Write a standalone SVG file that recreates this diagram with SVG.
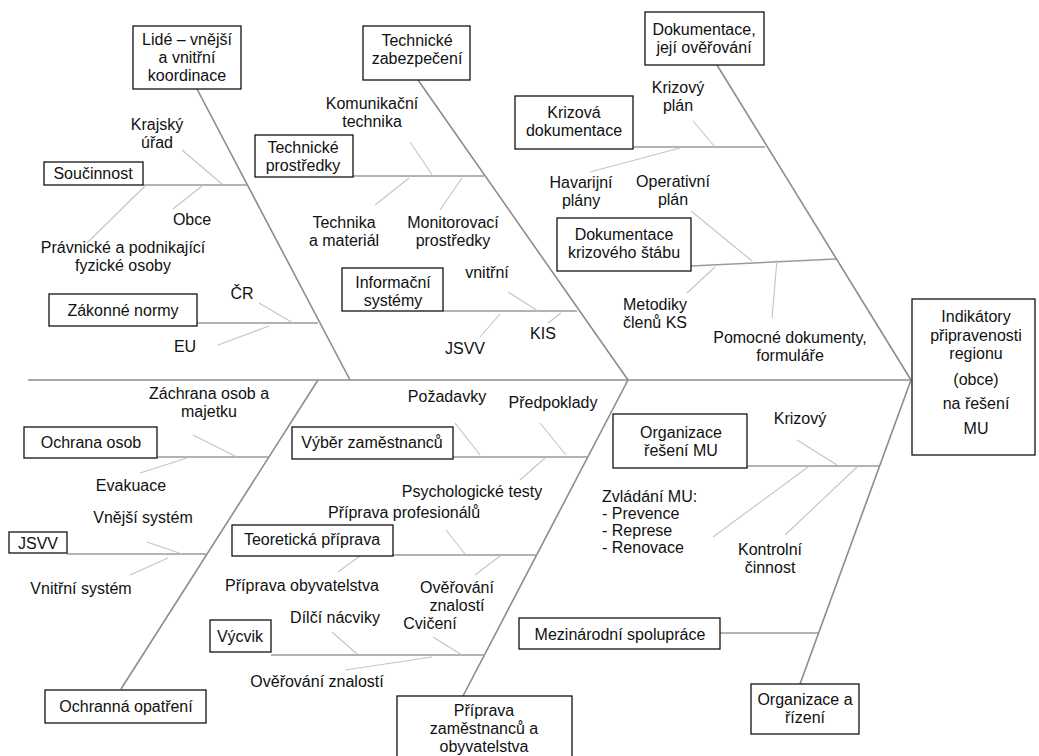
<svg xmlns="http://www.w3.org/2000/svg" width="1039" height="756" viewBox="0 0 1039 756">
<style>
text{font-family:"Liberation Sans",Arial,sans-serif;font-size:16px;fill:#111;text-anchor:middle}
.l{text-anchor:start}
.box{fill:#fff;stroke:#111;stroke-width:1.3}
.bone{stroke:#8c8c8c;stroke-width:1.6;fill:none}
.sub{stroke:#9a9a9a;stroke-width:1.5;fill:none}
.twig{stroke:#c4c4c4;stroke-width:1.1;fill:none}
</style>
<rect width="1039" height="756" fill="#fff"/>
<g id="connectors">
<line class="bone" x1="28" y1="380" x2="911" y2="380"/>
<line class="bone" x1="197" y1="89" x2="350" y2="380"/>
<line class="bone" x1="418" y1="80" x2="628" y2="380"/>
<line class="bone" x1="717" y1="65" x2="911" y2="380"/>
<line class="bone" x1="121" y1="689" x2="318" y2="380"/>
<line class="bone" x1="463" y1="696" x2="628" y2="380"/>
<line class="bone" x1="800" y1="684" x2="911" y2="380"/>
<line class="sub" x1="143" y1="185" x2="247" y2="185"/>
<line class="sub" x1="197" y1="323" x2="318" y2="323"/>
<line class="sub" x1="353" y1="176" x2="484" y2="176"/>
<line class="sub" x1="443" y1="311" x2="577" y2="311"/>
<line class="sub" x1="633" y1="147" x2="765" y2="147"/>
<line class="sub" x1="691" y1="266" x2="836" y2="259"/>
<line class="sub" x1="157" y1="457" x2="269" y2="457"/>
<line class="sub" x1="67" y1="554" x2="206" y2="554"/>
<line class="sub" x1="453" y1="457" x2="588" y2="457"/>
<line class="sub" x1="393" y1="555" x2="537" y2="555"/>
<line class="sub" x1="271" y1="655" x2="485" y2="655"/>
<line class="sub" x1="747" y1="466" x2="879" y2="466"/>
<line class="sub" x1="720" y1="633" x2="818" y2="633"/>
<line class="twig" x1="182" y1="150" x2="222" y2="184"/>
<line class="twig" x1="202" y1="186" x2="173" y2="209"/>
<line class="twig" x1="145" y1="186" x2="87" y2="243"/>
<line class="twig" x1="259" y1="303" x2="293" y2="323"/>
<line class="twig" x1="269" y1="326" x2="218" y2="345"/>
<line class="twig" x1="410" y1="142" x2="433" y2="176"/>
<line class="twig" x1="409" y1="178" x2="375" y2="205"/>
<line class="twig" x1="462" y1="178" x2="440" y2="210"/>
<line class="twig" x1="508" y1="292" x2="538" y2="311"/>
<line class="twig" x1="500" y1="314" x2="480" y2="337"/>
<line class="twig" x1="561" y1="313" x2="548" y2="323"/>
<line class="twig" x1="693" y1="121" x2="715" y2="147"/>
<line class="twig" x1="680" y1="148" x2="590" y2="172"/>
<line class="twig" x1="691" y1="211" x2="752" y2="261"/>
<line class="twig" x1="715" y1="267" x2="687" y2="293"/>
<line class="twig" x1="777" y1="260" x2="772" y2="318"/>
<line class="twig" x1="193" y1="435" x2="237" y2="457"/>
<line class="twig" x1="187" y1="458" x2="140" y2="473"/>
<line class="twig" x1="147" y1="542" x2="182" y2="554"/>
<line class="twig" x1="168" y1="558" x2="130" y2="575"/>
<line class="twig" x1="455" y1="423" x2="480" y2="455"/>
<line class="twig" x1="540" y1="423" x2="566" y2="455"/>
<line class="twig" x1="545" y1="458" x2="520" y2="480"/>
<line class="twig" x1="446" y1="530" x2="465" y2="554"/>
<line class="twig" x1="360" y1="556" x2="338" y2="572"/>
<line class="twig" x1="500" y1="556" x2="475" y2="575"/>
<line class="twig" x1="332" y1="632" x2="357" y2="654"/>
<line class="twig" x1="433" y1="637" x2="462" y2="655"/>
<line class="twig" x1="432" y1="657" x2="345" y2="670"/>
<line class="twig" x1="797" y1="440" x2="837" y2="465"/>
<line class="twig" x1="808" y1="467" x2="713" y2="537"/>
<line class="twig" x1="857" y1="467" x2="785" y2="535"/>
</g>
<g id="head"><rect class="box" x="912" y="299" width="123" height="156"/>
<text x="976" y="322">Indikátory</text><text x="976" y="341">připravenosti</text><text x="976" y="359">regionu</text><text x="976" y="385">(obce)</text><text x="976" y="409">na řešení</text><text x="976" y="434">MU</text></g>
<g id="lide"><rect class="box" x="133" y="26" width="108" height="63"/>
<text x="187" y="45">Lidé – vnější</text><text x="187" y="63">a vnitřní</text><text x="187" y="81">koordinace</text></g>
<g id="tech-zab"><rect class="box" x="363" y="26" width="107" height="54"/>
<text x="417" y="46">Technické</text><text x="417" y="64">zabezpečení</text></g>
<g id="dok"><rect class="box" x="645" y="12" width="119" height="53"/>
<text x="704" y="35">Dokumentace,</text><text x="704" y="53">její ověřování</text></g>
<g id="soucinnost"><rect class="box" x="44" y="162" width="99" height="23"/><text x="93" y="179">Součinnost</text></g>
<g id="krajsky"><text x="157" y="130">Krajský</text><text x="157" y="148">úřad</text></g>
<g id="obce"><text x="192" y="225">Obce</text></g>
<g id="pravnicke"><text x="123" y="253">Právnické a podnikající</text><text x="123" y="271">fyzické osoby</text></g>
<g id="zakonne"><rect class="box" x="49" y="294" width="148" height="32"/><text x="123" y="316">Zákonné normy</text></g>
<g id="cr"><text x="242" y="299">ČR</text></g>
<g id="eu"><text x="185" y="352">EU</text></g>
<g id="komunikacni"><text x="372" y="109">Komunikační</text><text x="372" y="127">technika</text></g>
<g id="tech-prostredky"><rect class="box" x="255" y="135" width="98" height="42"/><text x="303" y="153">Technické</text><text x="303" y="171">prostředky</text></g>
<g id="technika"><text x="344" y="228">Technika</text><text x="344" y="246">a materiál</text></g>
<g id="monitorovaci"><text x="453" y="228">Monitorovací</text><text x="453" y="246">prostředky</text></g>
<g id="informacni"><rect class="box" x="342" y="268" width="101" height="43"/><text x="393" y="288">Informační</text><text x="393" y="306">systémy</text></g>
<g id="vnitrni"><text x="487" y="278">vnitřní</text></g>
<g id="kis"><text x="543" y="339">KIS</text></g>
<g id="jsvv-top"><text x="465" y="354">JSVV</text></g>
<g id="krizova-dok"><rect class="box" x="515" y="96" width="118" height="53"/><text x="574" y="118">Krizová</text><text x="574" y="136">dokumentace</text></g>
<g id="krizovy-plan"><text x="678" y="93">Krizový</text><text x="678" y="111">plán</text></g>
<g id="havarijni"><text x="581" y="188">Havarijní</text><text x="581" y="206">plány</text></g>
<g id="operativni"><text x="673" y="187">Operativní</text><text x="673" y="205">plán</text></g>
<g id="dok-ks"><rect class="box" x="557" y="218" width="134" height="53"/><text x="624" y="240">Dokumentace</text><text x="624" y="258">krizového štábu</text></g>
<g id="metodiky"><text x="655" y="310">Metodiky</text><text x="655" y="328">členů KS</text></g>
<g id="pomocne"><text x="790" y="343">Pomocné dokumenty,</text><text x="790" y="361">formuláře</text></g>
<g id="ochranna"><rect class="box" x="45" y="690" width="161" height="33"/><text x="126" y="712">Ochranná opatření</text></g>
<g id="ochrana-osob"><rect class="box" x="24" y="427" width="133" height="31"/><text x="91" y="448">Ochrana osob</text></g>
<g id="zachrana"><text x="209" y="399">Záchrana osob a</text><text x="209" y="417">majetku</text></g>
<g id="evakuace"><text x="131" y="491">Evakuace</text></g>
<g id="jsvv"><rect class="box" x="9" y="532" width="58" height="21"/><text x="38" y="549">JSVV</text></g>
<g id="vnejsi"><text x="143" y="523">Vnější systém</text></g>
<g id="vnitrni-sys"><text x="81" y="594">Vnitřní systém</text></g>
<g id="priprava"><rect class="box" x="397" y="696" width="175" height="64"/><text x="484" y="716">Příprava</text><text x="484" y="734">zaměstnanců a</text><text x="484" y="752">obyvatelstva</text></g>
<g id="vyber"><rect class="box" x="292" y="427" width="161" height="32"/><text x="372" y="448">Výběr zaměstnanců</text></g>
<g id="pozadavky"><text x="447" y="402">Požadavky</text></g>
<g id="predpoklady"><text x="553" y="408">Předpoklady</text></g>
<g id="psych"><text x="472" y="497">Psychologické testy</text></g>
<g id="prof"><text x="404" y="518">Příprava profesionálů</text></g>
<g id="teoreticka"><rect class="box" x="232" y="525" width="161" height="31"/><text x="312" y="545">Teoretická příprava</text></g>
<g id="obyv"><text x="302" y="591">Příprava obyvatelstva</text></g>
<g id="overovani1"><text x="457" y="593">Ověřování</text><text x="457" y="611">znalostí</text></g>
<g id="dilci"><text x="335" y="623">Dílčí nácviky</text></g>
<g id="cviceni"><text x="430" y="629">Cvičení</text></g>
<g id="vycvik"><rect class="box" x="210" y="620" width="61" height="32"/><text x="240" y="642">Výcvik</text></g>
<g id="overovani2"><text x="317" y="687">Ověřování znalostí</text></g>
<g id="org-reseni"><rect class="box" x="613" y="414" width="134" height="54"/><text x="681" y="438">Organizace</text><text x="681" y="456">řešení MU</text></g>
<g id="krizovy"><text x="800" y="424">Krizový</text></g>
<g id="zvladani"><text class="l" x="602" y="502">Zvládání MU:</text><text class="l" x="602" y="519">- Prevence</text><text class="l" x="602" y="536">- Represe</text><text class="l" x="602" y="553">- Renovace</text></g>
<g id="kontrolni"><text x="770" y="555">Kontrolní</text><text x="770" y="573">činnost</text></g>
<g id="mezinarodni"><rect class="box" x="519" y="618" width="201" height="31"/><text x="620" y="640">Mezinárodní spolupráce</text></g>
<g id="org-rizeni"><rect class="box" x="751" y="684" width="108" height="50"/><text x="805" y="705">Organizace a</text><text x="805" y="723">řízení</text></g>
</svg>
